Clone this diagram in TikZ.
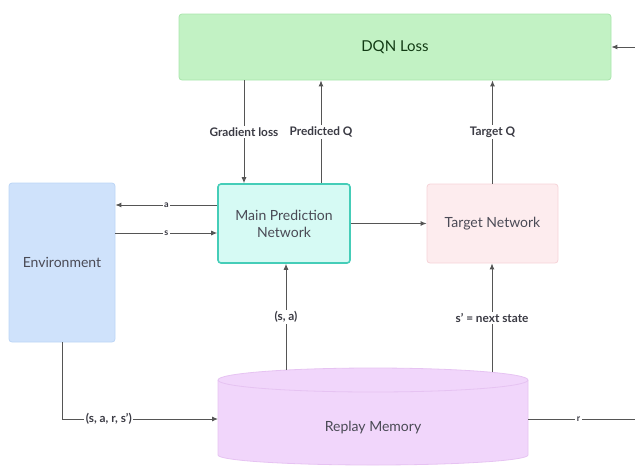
\documentclass[tikz,border=0pt]{standalone}
\usepackage{fontspec}
\setmainfont{Lato}[BoldFont={Lato Bold}]
\usetikzlibrary{arrows.meta}
\definecolor{lossfill}{HTML}{C2F2C4}
\definecolor{lossline}{HTML}{A9E5AD}
\definecolor{envfill}{HTML}{CFE2FB}
\definecolor{envline}{HTML}{BCD6F6}
\definecolor{mainfill}{HTML}{D6FAF4}
\definecolor{mainline}{HTML}{45CDB8}
\definecolor{tgtfill}{HTML}{FDECEE}
\definecolor{tgtline}{HTML}{F6D3D8}
\definecolor{memfill}{HTML}{F1D6FB}
\definecolor{memline}{HTML}{E6C3F2}
\definecolor{txt}{HTML}{4A4A55}
\definecolor{wire}{HTML}{555555}
\tikzset{
  x=1pt, y=-1pt,
  box/.style={rounded corners=3pt, inner sep=0pt, align=center,
    font=\fontsize{14}{17}\selectfont, text=txt},
  conn/.style={draw=wire, line width=0.9pt, -{Latex[length=6pt,width=5pt]}},
  plain/.style={draw=wire, line width=0.9pt},
  lbl/.style={fill=white, inner sep=1.5pt, font=\fontsize{11.8}{13}\selectfont\bfseries, text=txt!80!black},
  tiny/.style={font=\fontsize{9}{10}\selectfont\bfseries}
}
\begin{document}
\begin{tikzpicture}
\useasboundingbox (0,0) rectangle (635,467);

% boxes
\node[box, fill=lossfill, draw=lossline, line width=0.8pt,
      minimum width=432, minimum height=66, font=\fontsize{15}{18}\selectfont, text=txt!60!green!40!black]
      (loss) at (395,47) {DQN Loss};
\node[box, fill=envfill, draw=envline, line width=0.8pt,
      minimum width=106, minimum height=159] (env) at (62,262.5) {Environment};
\node[box, fill=mainfill, draw=mainline, line width=1.6pt,
      minimum width=132, minimum height=79] (main) at (284,223.5) {Main Prediction\\Network};
\node[box, fill=tgtfill, draw=tgtline, line width=0.8pt,
      minimum width=131, minimum height=79] (tgt) at (492.5,223.5) {Target Network};

% replay memory cylinder
\fill[memfill] (218,380) -- (218,455) arc[start angle=180, end angle=360, x radius=155, y radius=-10]
  -- (528,380) arc[start angle=0, end angle=180, x radius=155, y radius=-12] -- cycle;
\draw[memline, line width=0.8pt] (218,380) -- (218,455) arc[start angle=180, end angle=360, x radius=155, y radius=-10]
  -- (528,380);
\draw[memline, line width=0.8pt] (373,380) ellipse[x radius=155, y radius=12];
\node[box, minimum width=310, minimum height=75] (mem) at (373,428) {Replay Memory};
\coordinate (memA) at (286,370);
\coordinate (memB) at (492,372);
\coordinate (memL) at (218,419);
\coordinate (memR) at (528,419);

% connectors around the main network
\draw[conn] (loss.south -| 244,0) -- node[lbl] {Gradient loss} (main.north -| 244,0);
\draw[conn] (main.north -| 321,0) -- node[lbl] {Predicted Q} (loss.south -| 321,0);
\draw[conn] (tgt.north) -- node[lbl] {Target Q} (loss.south -| tgt.north);
\draw[conn] (main.west |- 0,205) -- node[lbl, tiny] {a} (env.east |- 0,205);
\draw[conn] (env.east |- 0,233) -- node[lbl, tiny] {s} (main.west |- 0,233);
\draw[conn] (main.east) -- (tgt.west);

% replay memory links
\draw[conn] (memA) -- node[lbl] {(s, a)} (main.south -| memA);
\draw[conn] (memB) -- node[lbl] {s' = next state} (tgt.south -| memB);
\coordinate (envdown) at (62,419);
\draw[conn] (env.south) -- (envdown) -- node[lbl, pos=0.3] {(s, a, r, s')} (memL);
\coordinate (rc1) at (635.3,419);
\coordinate (rc2) at (635.3,47);
\draw[plain] (memR) -- node[lbl, tiny, pos=0.47] {r} (rc1) -- (rc2);
\draw[conn] (rc2) -- (loss.east |- rc2);
\end{tikzpicture}
\end{document}
